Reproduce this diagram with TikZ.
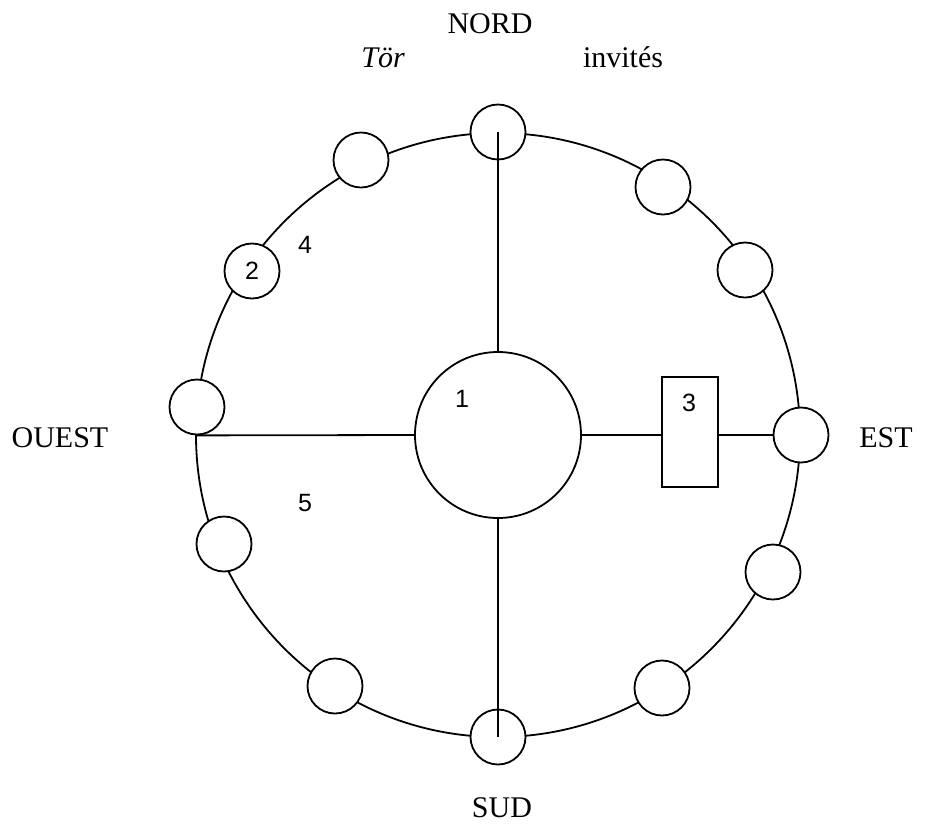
\documentclass[tikz,border=0pt]{standalone}
\usepackage{fontspec}
\setmainfont{Liberation Serif}
\newfontfamily\numfont{Liberation Sans}
\tikzset{
    seat/.style={circle, draw, fill=white, minimum size=55pt, inner sep=0pt,
    	font=\numfont\fontsize{25}{25}\selectfont},
    num/.style={font=\numfont\fontsize{25}{25}\selectfont, inner sep=0pt},
    side/.style={font=\fontsize{30}{30}\selectfont, inner sep=0pt, anchor=base}
}
\tikzset{
    every path/.append style={line width=1.8pt}
}

\begin{document}
\begin{tikzpicture}[x=1pt,y=-1pt]
	\useasboundingbox (0,0) rectangle (943,823);
	\node (ring) [circle, draw, minimum size=604pt, inner sep=0pt] at (498,435) {};
	
	\node (1) [seat] at (498,132) {};
	\node (2) [seat] at (663,187) {};
	\node (3) [seat] at (745,270) {};
	\node (4) [seat] at (801,435) {};
	\node (5) [seat] at (773,572) {};
	\node (6) [seat] at (662,688) {};
	\node (7) [seat] at (498,737) {};
	\node (8) [seat] at (335,686) {};
	\node (9) [seat] at (224,544) {};
	\node (10) [seat] at (197,407) {};
	\node (11) [seat] at (252,271) {2};
	\node (12) [seat] at (361,160) {};
	
	\node (table) [circle, draw, minimum size=166pt, inner sep=0pt] at (498,435) {};
	\node (box) [draw, minimum width=56pt, minimum height=110pt, inner sep=0pt] at (690,432) {};
	
	\draw (1.center) -- (table.north);
	\draw (table.south) -- (7.center);
	\draw (10.south) -- (table.west);
	\draw (table.east) -- (table.east -| box.west);
	\draw (box.east |- 4.west) -- (4.west);
	
	\node (l1) [num] at (462,399) {1};
	\node (l3) [num] at (689,403) {3};
	\node (l4) [num] at (305,245) {4};
	\node (l5) [num] at (305,503) {5};
	
	\node (nord) [side] at (490,33) {NORD};
	\node (tor) [side] at (383,67) {\itshape Tör};
	\node (inv) [side] at (623,67) {invités};
	\node (sud) [side] at (502,817) {SUD};
	\node (ouest) [side] at (60,447) {OUEST};
	\node (est) [side] at (886,447) {EST};
\end{tikzpicture}
\end{document}
